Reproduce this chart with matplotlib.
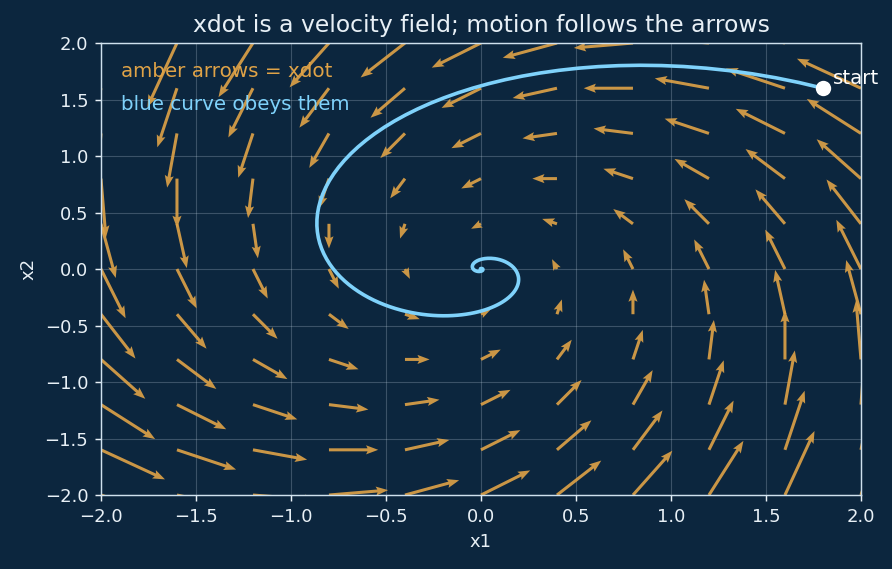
import numpy as np
import matplotlib
matplotlib.use("Agg")
import matplotlib.pyplot as plt

# linear system xdot = A x
A = np.array([[-0.5, -1.0],
              [1.0, -0.5]])
grid_x = np.linspace(-2, 2, 11)
grid_y = np.linspace(-2, 2, 11)
start = [1.8, 1.6]
dt = 0.05
n_steps = 400

bg = "#0c263e"
amber = "#e0a347"
blue = "#7fd2fb"
fg = "#e8f0f6"

X, Y = np.meshgrid(grid_x, grid_y)
U = A[0, 0] * X + A[0, 1] * Y
V = A[1, 0] * X + A[1, 1] * Y

# simple euler steps from the start point
traj = [np.array(start)]
for i in range(n_steps):
    traj.append(traj[-1] + dt * A.dot(traj[-1]))
traj = np.array(traj)

fig = plt.figure(figsize=(892 / 130, 569 / 130), dpi=130, facecolor=bg)
ax = fig.add_subplot(111, facecolor=bg)
fig.subplots_adjust(left=0.1132, right=0.9652, top=0.9244, bottom=0.130)

ax.quiver(X, Y, U, V, color=amber, alpha=0.9, scale=5.28, scale_units="inches",
          width=0.004, headwidth=3, headlength=4, headaxislength=3.5, zorder=2)
ax.plot(traj[:, 0], traj[:, 1], color=blue, lw=2, zorder=3)
ax.plot(start[0], start[1], "o", color="white", ms=7.5, zorder=4)
ax.text(1.855, 1.64, "start", color="white", fontsize=11, zorder=5)

ax.text(0.026, 0.936, "amber arrows = xdot", transform=ax.transAxes,
        color=amber, fontsize=11, va="center")
ax.text(0.026, 0.863, "blue curve obeys them", transform=ax.transAxes,
        color=blue, fontsize=11, va="center")

ax.set_xlim(-2, 2)
ax.set_ylim(-2, 2)
ax.set_xticks(np.arange(-2, 2.01, 0.5))
ax.set_yticks(np.arange(-2, 2.01, 0.5))
ax.grid(True, color="#c8d8e6", alpha=0.25, lw=0.6)
ax.set_axisbelow(True)
for s in ax.spines.values():
    s.set_color("#cfe1ee")
ax.tick_params(colors=fg, labelsize=10)
ax.set_xlabel("x1", color=fg, fontsize=10)
ax.set_ylabel("x2", color=fg, fontsize=10)
ax.set_title("xdot is a velocity field; motion follows the arrows", color=fg, fontsize=13)

fig.savefig("out.png", dpi=130, facecolor=bg)
